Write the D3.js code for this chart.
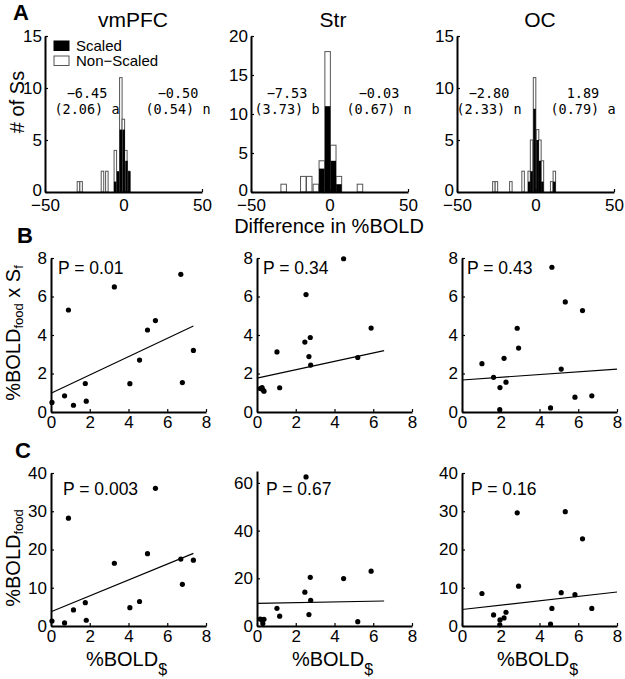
<!DOCTYPE html>
<html><head><meta charset="utf-8">
<script src="https://cdn.jsdelivr.net/npm/d3@7/dist/d3.min.js"></script>
<style>
body{margin:0;background:#fff;}
svg text{font-family:"Liberation Sans",Arial,Helvetica,sans-serif;fill:#000;}
</style></head><body>
<svg id="c" width="625" height="679"></svg>
<script>
// ---------------- DATA ----------------
const regions = ["vmPFC", "Str", "OC"];

// Panel A: histograms of "Difference in %BOLD"
const histXTicks = [-50, 0, 50];
const histYMax = [15, 20, 15];
const histYTicks = [[0, 5, 10, 15], [0, 5, 10, 15, 20], [0, 5, 10, 15]];
const binWidth = [1.6, 3.5, 1.6];
const nonScaledCenters = [
  [-28.7, -27.0, -13.4, -10.6, -5.2, -1.7, -0.1, 1.5, 3.1],
  [-29.2, -16.7, -12.9, -8.7, -4.9, -1.2, 2.4, 6.0, 19.4],
  [-26.5, -24.9, -15.7, -7.9, -4.0, -2.5, -0.6, 1.3, 2.8, 4.4, 10.3, 12.0]
];
const nonScaledCounts = [
  [1, 1, 2, 2, 4, 11, 7, 4, 2],
  [1, 2, 2, 1, 4, 18, 6, 2, 1],
  [1, 1, 1, 2, 2, 5, 11, 6, 5, 3, 1, 2]
];
const scaledCenters = [
  [-5.3, -3.5, -1.7, 0.1, 1.9, 3.7],
  [-4.9, -1.2, 2.4, 6.0],
  [-4.0, -2.5, -0.6, 1.3, 2.8, 4.4, 12.0]
];
const scaledCounts = [
  [1, 2, 6, 6, 3, 2],
  [3, 11, 4, 1],
  [1, 2, 8, 5, 3, 1, 1]
];
const leftMean = ["\u22126.45", "\u22127.53", "\u22122.80"];
const leftSE = ["(2.06) a", "(3.73) b", "(2.33) n"];
const rightMean = ["\u22120.50", "\u22120.03", "1.89"];
const rightSE = ["(0.54) n", "(0.67) n", "(0.79) a"];
const legendLabels = ["Scaled", "Non\u2212Scaled"];

// Panels B, C: scatter of %BOLD$ vs %BOLDfood x Sf / %BOLDfood
const xBold = [
  [0.05, 0.7, 0.9, 1.16, 1.77, 1.82, 3.27, 4.07, 4.57, 4.98, 5.39, 6.7, 6.78, 7.35],
  [0.17, 0.26, 0.30, 0.36, 1.03, 1.17, 2.47, 2.53, 2.68, 2.75, 2.77, 4.47, 5.2, 5.89],
  [1.03, 1.63, 1.96, 1.95, 2.17, 2.27, 2.85, 2.92, 4.57, 4.64, 5.12, 5.33, 5.83, 6.22, 6.7]
];
const yFoodSf = [
  [0.5, 0.84, 5.3, 0.35, 1.48, 0.56, 6.5, 1.47, 2.7, 4.26, 4.75, 7.15, 1.53, 3.2],
  [1.22, 1.27, 1.15, 1.08, 3.12, 1.26, 3.63, 6.1, 2.88, 3.87, 2.44, 7.96, 2.83, 4.36],
  [2.51, 1.8, 1.27, 0.12, 2.79, 1.55, 4.35, 3.32, 0.21, 7.52, 2.23, 5.72, 0.77, 5.27, 0.84]
];
const yFood = [
  [1.3, 0.8, 28.2, 4.2, 6.1, 1.5, 16.4, 4.8, 6.4, 18.9, 36, 17.5, 10.9, 17.2],
  [2.9, 2.5, 1.0, 2.8, 7.4, 4.1, 14.2, 62.5, 4.8, 20.4, 10.8, 19.9, 1.8, 23],
  [8.5, 2.9, 1.6, 0.3, 2.1, 3.6, 29.6, 10.4, 0.5, 4.6, 8.7, 29.9, 8.2, 22.8, 4.6]
];
const scatterXTicks = [0, 2, 4, 6, 8];
const bYTicks = [0, 2, 4, 6, 8];
const cYMax = [40, 65, 40];
const cYTicks = [[0, 10, 20, 30, 40], [0, 20, 40, 60], [0, 10, 20, 30, 40]];
const pB = ["P = 0.01", "P = 0.34", "P = 0.43"];
const pC = ["P = 0.003", "P = 0.67", "P = 0.16"];
// regression lines: intercept, slope, x-extent
const fitBIntercept = [0.98, 1.76, 1.66];
const fitBSlope = [0.475, 0.218, 0.071];
const fitCIntercept = [3.7, 9.5, 4.3];
const fitCSlope = [2.08, 0.152, 0.575];
const fitXMax = [7.35, 6.56, 8];

// ---------------- LAYOUT ----------------
const FONT = '"Liberation Sans", Arial, Helvetica, sans-serif';
const MONO = '"DejaVu Sans Mono", monospace';
const histLeft = [45, 251, 457], histW = 157, histTop = 36, histBottom = 192;
const titleX = [133, 333, 540];
const annLeftX = [87, 287, 489], annRightX = [178, 379, 583];
const scLeft = [51, 257, 462], scW = 155;
const bTop = 258, bBottom = 412;
const cBottom = 626, cTop = [473, 471, 473];

const svg = d3.select("#c");
const minusFmt = d => d < 0 ? "\u2212" + Math.abs(d) : String(d);

function styleAxis(g) {
  g.attr("font-size", null).attr("font-family", null);
  g.select(".domain").attr("stroke", "#000").attr("stroke-width", 2);
  g.selectAll(".tick line").attr("stroke", "#000").attr("stroke-width", 1.2);
  g.selectAll(".tick text").style("font-family", FONT).style("font-size", "17px").attr("fill", "#000");
}

// ---------------- PANEL A ----------------
regions.forEach((r, i) => {
  const x = d3.scaleLinear().domain([-50, 50]).range([histLeft[i], histLeft[i] + histW]);
  const y = d3.scaleLinear().domain([0, histYMax[i]]).range([histBottom, histTop]);
  const g = svg.append("g");
  const hw = binWidth[i] / 2;
  g.selectAll("rect.ns").data(d3.zip(nonScaledCenters[i], nonScaledCounts[i])).join("rect")
    .attr("x", d => x(d[0] - hw)).attr("width", d => x(d[0] + hw) - x(d[0] - hw))
    .attr("y", d => y(d[1])).attr("height", d => y(0) - y(d[1]))
    .attr("fill", "#fff").attr("stroke", "#555").attr("stroke-width", 1);
  g.selectAll("rect.sc").data(d3.zip(scaledCenters[i], scaledCounts[i])).join("rect")
    .attr("x", d => x(d[0] - hw)).attr("width", d => x(d[0] + hw) - x(d[0] - hw))
    .attr("y", d => y(d[1])).attr("height", d => y(0) - y(d[1]))
    .attr("fill", "#000");
  g.append("g").attr("transform", `translate(0,${histBottom})`)
    .call(d3.axisBottom(x).tickValues(histXTicks).tickSizeInner(-3).tickSizeOuter(0).tickPadding(7).tickFormat(minusFmt))
    .call(styleAxis);
  const ya = g.append("g").attr("transform", `translate(${histLeft[i]},0)`)
    .call(d3.axisLeft(y).tickValues(histYTicks[i]).tickSizeInner(-3).tickSizeOuter(0).tickPadding(3))
    .call(styleAxis);
  ya.selectAll(".tick text").filter(d => d === 0).attr("dy", "0.2em");
  svg.append("text").attr("x", titleX[i]).attr("y", 26.5).attr("text-anchor", "middle")
    .style("font-size", "21px").text(r);
  const ann = [[annLeftX[i], leftMean[i], leftSE[i]], [annRightX[i], rightMean[i], rightSE[i]]];
  ann.forEach(a => {
    svg.append("text").attr("x", a[0]).attr("y", 98).attr("text-anchor", "middle")
      .style("font-family", MONO).style("font-size", "13.5px").text(a[1]);
    svg.append("text").attr("x", a[0]).attr("y", 113.5).attr("text-anchor", "middle")
      .style("font-family", MONO).style("font-size", "13.5px").text(a[2]);
  });
});
// legend
[["#000", legendLabels[0], 41], ["#fff", legendLabels[1], 56]].forEach(l => {
  svg.append("rect").attr("x", 54).attr("y", l[2]).attr("width", 15).attr("height", 9.5)
    .attr("fill", l[0]).attr("stroke", l[0] === "#000" ? "#000" : "#555").attr("stroke-width", 1);
  svg.append("text").attr("x", 76).attr("y", l[2] + 10).style("font-size", "15px").text(l[1]);
});
svg.append("text").attr("x", 329).attr("y", 233).attr("text-anchor", "middle")
  .style("font-size", "20px").text("Difference in %BOLD");
svg.append("text").attr("transform", "translate(24,102) rotate(-90)").attr("text-anchor", "middle")
  .style("font-size", "20px").text("# of Ss");

// ---------------- PANELS B & C ----------------
function scatter(i, yVals, top, bottom, yMax, yTicks, pText, pX, pY, b0, b1) {
  const x = d3.scaleLinear().domain([0, 8]).range([scLeft[i], scLeft[i] + scW]);
  const y = d3.scaleLinear().domain([0, yMax]).range([bottom, top]);
  const g = svg.append("g");
  g.append("line").attr("x1", x(0)).attr("x2", x(fitXMax[i]))
    .attr("y1", y(b0)).attr("y2", y(b0 + b1 * fitXMax[i]))
    .attr("stroke", "#000").attr("stroke-width", 1.1);
  g.selectAll("circle").data(d3.zip(xBold[i], yVals)).join("circle")
    .attr("cx", d => x(d[0])).attr("cy", d => y(d[1])).attr("r", 2.6).attr("fill", "#000");
  g.append("g").attr("transform", `translate(0,${bottom})`)
    .call(d3.axisBottom(x).tickValues(scatterXTicks).tickSizeInner(-3).tickSizeOuter(0).tickPadding(4))
    .call(styleAxis);
  g.append("g").attr("transform", `translate(${scLeft[i]},0)`)
    .call(d3.axisLeft(y).tickValues(yTicks).tickSizeInner(-3).tickSizeOuter(0).tickPadding(4))
    .call(styleAxis);
  g.append("text").attr("x", pX).attr("y", pY).style("font-size", "17.5px").text(pText);
}
const pBX = [58, 263, 467], pCX = [63, 266, 471];
regions.forEach((r, i) => {
  scatter(i, yFoodSf[i], bTop, bBottom, 8, bYTicks, pB[i], pBX[i], 274, fitBIntercept[i], fitBSlope[i]);
  scatter(i, yFood[i], cTop[i], cBottom, cYMax[i], cYTicks[i], pC[i], pCX[i], 495, fitCIntercept[i], fitCSlope[i]);
  // x labels
  const t = svg.append("text").attr("x", scLeft[i] + scW / 2 - 2).attr("y", 666).attr("text-anchor", "middle")
    .style("font-size", "20px");
  t.append("tspan").text("%BOLD");
  t.append("tspan").attr("dy", 9).style("font-size", "16px").text("$");
});
// y labels
const yb = svg.append("text").attr("transform", "translate(20,333) rotate(-90)").attr("text-anchor", "middle")
  .style("font-size", "20px");
yb.append("tspan").text("%BOLD");
yb.append("tspan").attr("dy", 3).style("font-size", "13px").text("food");
yb.append("tspan").attr("dy", -3).text(" x S");
yb.append("tspan").attr("dy", 3).style("font-size", "13px").text("f");
const yc = svg.append("text").attr("transform", "translate(20,558) rotate(-90)").attr("text-anchor", "middle")
  .style("font-size", "20px");
yc.append("tspan").text("%BOLD");
yc.append("tspan").attr("dy", 3).style("font-size", "13px").text("food");

// panel letters
[["A", 13, 20], ["B", 17, 243], ["C", 15, 458]].forEach(l => {
  svg.append("text").attr("x", l[1]).attr("y", l[2]).style("font-size", "22px").style("font-weight", "bold").text(l[0]);
});
</script>
</body></html>
